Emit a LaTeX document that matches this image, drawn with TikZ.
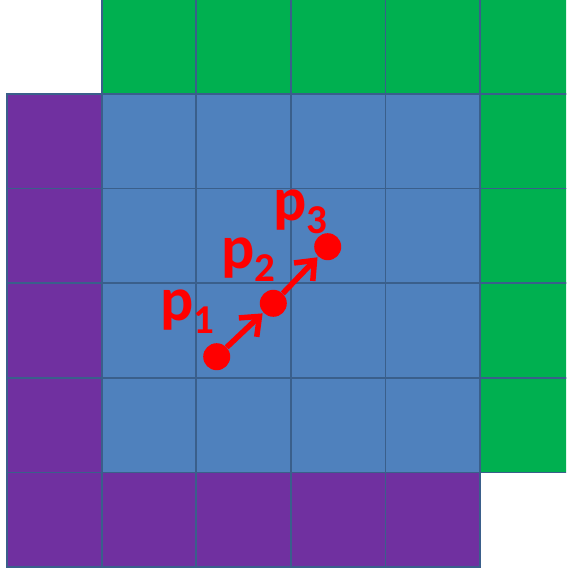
\documentclass[tikz,border=0pt]{standalone}
\usepackage{fontspec}
\setmainfont{Carlito}
\usetikzlibrary{arrows.meta}
\definecolor{cblue}{HTML}{4F81BD}
\definecolor{cgreen}{HTML}{00B050}
\definecolor{cpurple}{HTML}{7030A0}
\definecolor{gridline}{HTML}{3A5F8B}
\definecolor{cred}{HTML}{FF0000}
\newcommand{\plabel}[1]{\fontsize{62}{62}\selectfont\bfseries p\raisebox{-13pt}{\fontsize{41}{41}\selectfont #1}}
\begin{document}
\begin{tikzpicture}[x=1pt,y=-1pt,
  cellbox/.style={draw=gridline,line width=1.8pt},
  dot/.style={circle,fill=cred,inner sep=0pt,minimum size=27pt},
  parrow/.style={draw=cred,line width=5.5pt,-{Straight Barb[length=16pt,width=26pt]},shorten >=1pt},
  lab/.style={text=cred,anchor=base west,inner sep=0pt}]
\useasboundingbox (0,0) rectangle (566,569);
\clip (0,0) rectangle (566,569);
\def\c{94.6}
% top row (green)
\foreach \i in {1,...,5}
  \path[cellbox,fill=cgreen] ({7+\i*\c},-0.6) rectangle ++(\c,\c);
% middle rows
\foreach \j in {1,...,4}{
  \path[cellbox,fill=cpurple] (7,{-0.6+\j*\c}) rectangle ++(\c,\c);
  \foreach \i in {1,...,4}
    \path[cellbox,fill=cblue] ({7+\i*\c},{-0.6+\j*\c}) rectangle ++(\c,\c);
  \path[cellbox,fill=cgreen] ({7+5*\c},{-0.6+\j*\c}) rectangle ++(\c,\c);
}
% bottom row (purple)
\foreach \i in {0,...,4}
  \path[cellbox,fill=cpurple] ({7+\i*\c},{-0.6+5*\c}) rectangle ++(\c,\c);
% points
\node[dot] (p1) at (216.7,356.7) {};
\node[dot] (p2) at (273.3,303.3) {};
\node[dot] (p3) at (327.7,246.7) {};
\draw[parrow] (p1) -- (p2);
\draw[parrow] (p2) -- (p3);
% labels
\node[lab] (l1) at (160,320) {\plabel{1}};
\node[lab] (l2) at (221,268) {\plabel{2}};
\node[lab] (l3) at (273,220) {\plabel{3}};
\end{tikzpicture}
\end{document}
